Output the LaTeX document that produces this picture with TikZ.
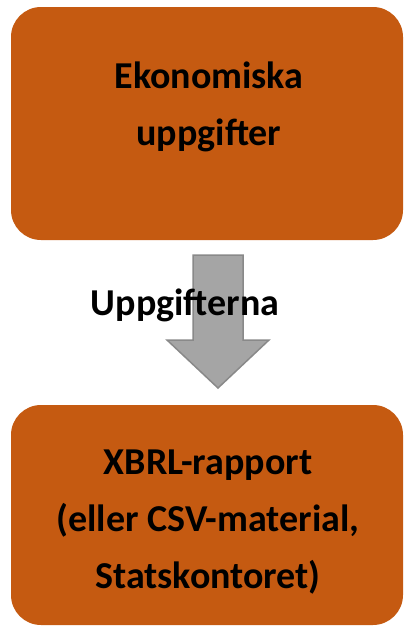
\documentclass[tikz,border=0pt]{standalone}
\usepackage{fontspec}
\setmainfont{Carlito}
\usetikzlibrary{calc,positioning}

\definecolor{cardorange}{HTML}{C55A11}
\definecolor{flowgray}{HTML}{A5A5A5}
\definecolor{flowedge}{HTML}{898989}

\tikzset{
  card/.style={fill=cardorange, rounded corners=30pt, minimum width=392pt, inner sep=0pt},
  cardtext/.style={align=center, font=\fontsize{38}{57}\selectfont\bfseries},
  flowarrow/.style={fill=flowgray, draw=flowedge, line width=1.5pt, line join=miter}
}

\begin{document}
\begin{tikzpicture}[x=1pt,y=-1pt]
\useasboundingbox (0,0) rectangle (404,635);

\node[card, minimum height=233pt] (ekon) at (207,123.5) {};
\node[card, minimum height=220pt] (xbrl) at (207,515) {};

\node[cardtext] (ekontext) at ($(ekon.center)+(2,-17)$) {Ekonomiska\\uppgifter};
\node[cardtext] (xbrltext) at ($(xbrl.center)+(1,7)$) {XBRL-rapport\\(eller CSV-material,\\Statskontoret)};

% block arrow between the cards
\coordinate (shafttop) at (218,255);
\coordinate (tip) at (218,388);
\draw[flowarrow] (shafttop) ++(-25,0) -- ++(50,0) -- ++(0,85) -- ++(26,0)
  -- (tip) -- ++(-51,-48) -- ++(26,0) -- ++(0,-85) -- cycle;

\node[cardtext, anchor=base] (flowlabel) at (185,315) {Uppgifterna};

\end{tikzpicture}
\end{document}
